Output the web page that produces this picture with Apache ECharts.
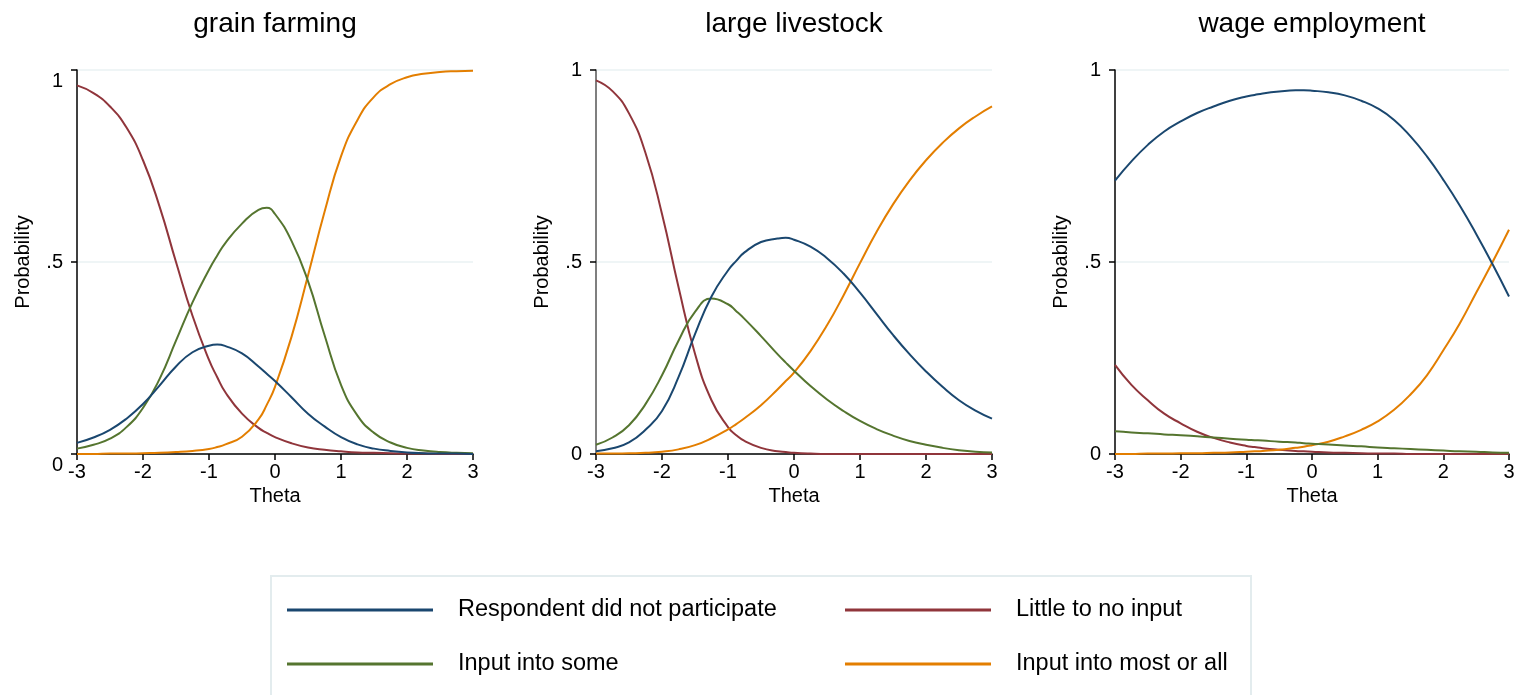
<!DOCTYPE html>
<html><head><meta charset="utf-8">
<script src="https://cdn.jsdelivr.net/npm/echarts@6/dist/echarts.min.js"></script>
<style>html,body{margin:0;padding:0;background:#fff}#c{width:1522px;height:695px}</style>
</head><body><div id="c"></div>
<script>
// ---- data ----
const theta = [-3,-2.75,-2.5,-2.25,-2,-1.75,-1.5,-1.25,-1,-0.875,-0.75,-0.5,-0.25,-0.125,0,0.25,0.5,0.75,1,1.25,1.5,1.75,2,2.25,2.5,2.75,3];
const panelTitles = ['grain farming','large livestock','wage employment'];
const seriesNames = ['Respondent did not participate','Little to no input','Input into some','Input into most or all'];
const xTicks = [-3,-2,-1,0,1,2,3];
const yTickLabels = {0:'0',0.5:'.5',1:'1'};

// grain farming
const grainNotPart = [.029,.043,.063,.092,.13,.178,.228,.265,.282,.285,.281,.262,.228,.209,.19,.148,.105,.072,.044,.025,.014,.008,.004,.002,.001,.001,0];
const grainLittle  = [.960,.94,.905,.85,.765,.645,.50,.36,.245,.20,.16,.105,.068,.055,.044,.028,.017,.011,.007,.004,.003,.002,.001,.001,0,0,0];
const grainSome    = [.014,.024,.04,.07,.12,.195,.295,.395,.48,.517,.55,.60,.636,.641,.625,.555,.45,.31,.18,.10,.055,.03,.016,.009,.005,.003,.002];
const grainMost    = [0,0,.001,.001,.002,.003,.005,.008,.013,.018,.025,.045,.09,.128,.175,.305,.465,.63,.775,.87,.93,.963,.981,.99,.995,.997,.998];

// large livestock
const liveNotPart = [.007,.015,.03,.063,.112,.20,.312,.41,.478,.503,.525,.552,.561,.563,.558,.54,.51,.47,.42,.365,.31,.26,.215,.175,.14,.113,.092];
const liveLittle  = [.973,.945,.887,.784,.625,.435,.261,.14,.07,.049,.034,.016,.007,.005,.003,.001,0,0,0,0,0,0,0,0,0,0,0];
const liveSome    = [.024,.043,.075,.13,.205,.295,.37,.405,.39,.372,.352,.307,.26,.238,.217,.177,.142,.112,.086,.065,.048,.034,.024,.016,.01,.006,.004];
const liveMost    = [.001,.001,.002,.003,.006,.012,.023,.041,.064,.078,.093,.127,.168,.19,.212,.268,.335,.413,.497,.578,.65,.712,.765,.81,.848,.879,.905];

// wage employment
const wageNotPart = [.712,.762,.805,.84,.866,.888,.905,.92,.931,.935,.939,.944,.947,.947,.946,.942,.934,.92,.90,.87,.827,.775,.714,.647,.573,.494,.41];
const wageLittle  = [.232,.18,.14,.105,.08,.058,.042,.03,.021,.018,.015,.011,.008,.007,.006,.004,.003,.002,.001,.001,0,0,0,0,0,0,0];
const wageSome    = [.059,.056,.054,.051,.049,.046,.043,.04,.037,.036,.035,.032,.03,.028,.027,.025,.022,.02,.017,.015,.013,.011,.009,.007,.006,.004,.003];
const wageMost    = [0,0,.001,.001,.002,.002,.003,.004,.006,.007,.008,.011,.016,.019,.023,.032,.046,.063,.085,.115,.155,.205,.27,.34,.42,.50,.584];

const panels = [
  [grainNotPart, grainLittle, grainSome, grainMost],
  [liveNotPart, liveLittle, liveSome, liveMost],
  [wageNotPart, wageLittle, wageSome, wageMost]
];

// ---- styles ----
const FONT = '"Liberation Sans", Arial, sans-serif';
const colors = ['#1a476f', '#90353b', '#55752f', '#e37e00'];
const grids = [
  {left: 77, top: 70, width: 396, height: 384},
  {left: 596, top: 70, width: 396, height: 384},
  {left: 1115, top: 70, width: 394, height: 384}
];

const chart = echarts.init(document.getElementById('c'), null, {renderer: 'canvas'});

const xAxes = grids.map((g, i) => ({
  gridIndex: i, type: 'value', min: -3, max: 3, interval: 1,
  name: 'Theta', nameLocation: 'middle', nameGap: 27,
  nameTextStyle: {fontFamily: FONT, fontSize: 20, color: '#000'},
  axisLine: {show: true, onZero: false, lineStyle: {color: '#000', width: 1.5}},
  axisTick: {show: true, length: 6, lineStyle: {color: '#000', width: 1.5}},
  axisLabel: {fontFamily: FONT, fontSize: 20, color: '#000', margin: 8,
    formatter: v => String(v)},
  splitLine: {show: false}
}));

const yAxes = grids.map((g, i) => ({
  gridIndex: i, type: 'value', min: 0, max: 1, interval: 0.5,
  name: 'Probability', nameLocation: 'middle', nameGap: 44,
  nameTextStyle: {fontFamily: FONT, fontSize: 20, color: '#000'},
  axisLine: {show: true, onZero: false, lineStyle: {color: i === 1 ? '#555' : '#000', width: 1.5}},
  axisTick: {show: true, length: 6, lineStyle: {color: '#000', width: 1.5}},
  axisLabel: {fontFamily: FONT, fontSize: 20, color: '#000', margin: 14,
    formatter: v => {
      const t = yTickLabels[v];
      if (i === 0 && (v === 0 || v === 1)) return '{s|' + t + '}';
      return t;
    },
    rich: {s: {fontFamily: FONT, fontSize: 20, color: '#000', padding: [23, 0, 0, 0]}}
  },
  splitLine: {show: true, lineStyle: {color: '#eaf2f3', width: 1.5}}
}));

const series = [];
panels.forEach((vals, pi) => {
  [1, 3, 2, 0].forEach(si => {
    series.push({
      name: seriesNames[si], type: 'line', xAxisIndex: pi, yAxisIndex: pi,
      data: theta.map((t, k) => [t, vals[si][k]]),
      showSymbol: false, symbol: 'none', smooth: 0.5,
      lineStyle: {color: colors[si], width: 2},
      itemStyle: {color: colors[si]},
      animation: false, silent: true, z: 3
    });
  });
});

const legendPos = [[287, 598], [845, 598], [287, 652], [845, 652]];
const legends = seriesNames.map((n, i) => ({
  data: [n], left: legendPos[i][0], top: legendPos[i][1], padding: 0,
  icon: 'rect', itemWidth: 146, itemHeight: 3, selectedMode: false,
  textStyle: {fontFamily: FONT, fontSize: 23.5, color: '#000', padding: [0, 0, 0, 20], lineHeight: 24}
}));

const titleCenters = grids.map(g => g.left + g.width / 2);
const graphics = [
  {type: 'rect', left: 270, top: 575, shape: {x: 0, y: 0, width: 980, height: 140},
   style: {fill: '#fff', stroke: '#e3ecee', lineWidth: 2}, z: -10, silent: true}
].concat(panelTitles.map((t, i) => ({
  type: 'text', x: titleCenters[i], y: 24, silent: true,
  style: {text: t, font: '28px ' + FONT, fill: '#000', align: 'center', verticalAlign: 'middle'}
})));

chart.setOption({
  backgroundColor: '#fff',
  animation: false,
  grid: grids,
  xAxis: xAxes,
  yAxis: yAxes,
  legend: legends,
  graphic: graphics,
  series: series
});
</script>
</body></html>
